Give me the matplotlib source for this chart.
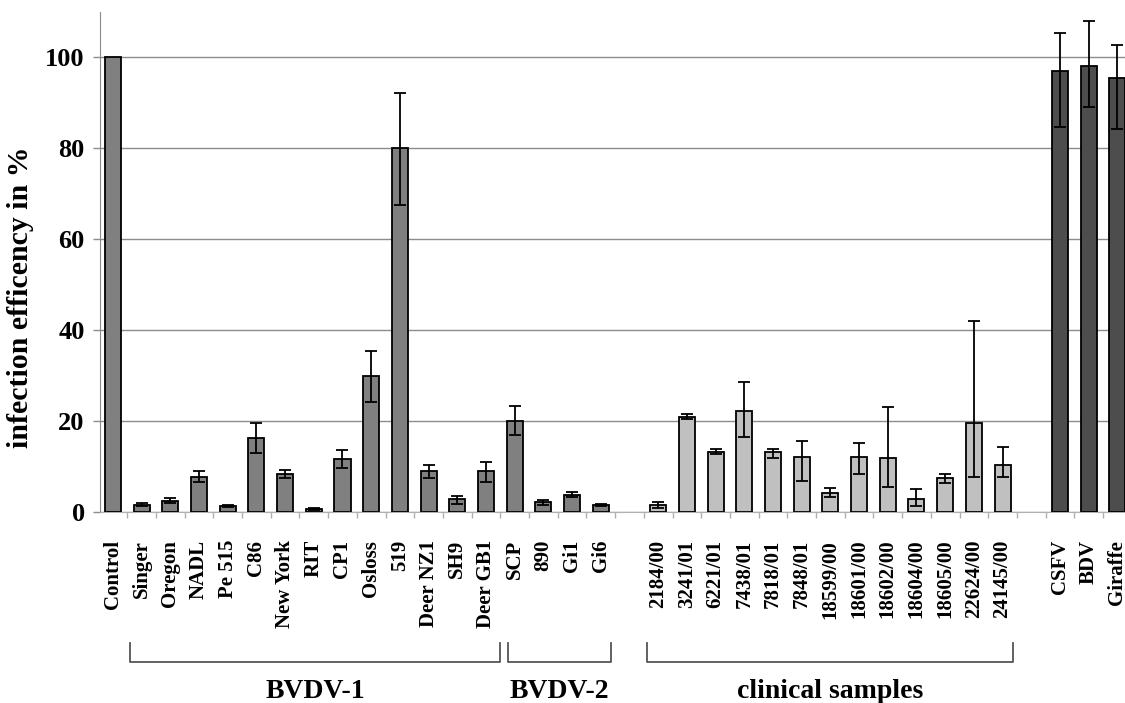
import numpy as np
import matplotlib as mpl
import matplotlib.pyplot as plt
from matplotlib.transforms import blended_transform_factory

mpl.use("Agg")

# bar categories, in order, with slot positions (gaps are empty slots)
bvdv_names = ["Control", "Singer", "Oregon", "NADL", "Pe 515", "C86", "New York",
              "RIT", "CP1", "Osloss", "519", "Deer NZ1", "SH9", "Deer GB1",
              "SCP", "890", "Gi1", "Gi6"]
bvdv_vals = [100, 1.6, 2.5, 7.8, 1.3, 16.3, 8.4, 0.7, 11.7, 30.0, 80.0, 9.0,
             2.8, 9.0, 20.0, 2.1, 3.7, 1.6]
bvdv_lo = [0, 0.3, 0.6, 1.3, 0.2, 3.4, 0.9, 0.2, 2.0, 5.8, 12.5, 1.6, 1.1,
           2.5, 3.0, 0.6, 0.5, 0.3]
bvdv_hi = [0, 0.3, 0.6, 1.2, 0.2, 3.3, 0.8, 0.2, 2.0, 5.5, 12.2, 1.4, 0.8,
           2.0, 3.3, 0.5, 0.7, 0.2]

clin_names = ["2184/00", "3241/01", "6221/01", "7438/01", "7818/01", "7848/01",
              "18599/00", "18601/00", "18602/00", "18604/00", "18605/00",
              "22624/00", "24145/00"]
clin_vals = [1.6, 21.0, 13.3, 22.2, 13.1, 12.2, 4.2, 12.1, 11.8, 2.8, 7.4, 19.5, 10.4]
clin_lo = [0.8, 0.6, 0.6, 5.8, 1.2, 5.3, 1.0, 3.8, 6.3, 1.5, 1.0, 11.8, 2.7]
clin_hi = [0.6, 0.6, 0.6, 6.4, 0.8, 3.5, 1.1, 3.0, 11.2, 2.2, 0.9, 22.6, 3.8]

other_names = ["CSFV", "BDV", "Giraffe"]
other_vals = [97.1, 98.1, 95.5]
other_lo = [12.3, 9.1, 11.3]
other_hi = [8.2, 9.9, 7.3]

groups = [("BVDV-1", 0.6, 13.48), ("BVDV-2", 13.75, 17.35),
          ("clinical samples", 18.6, 31.36)]

bvdv_x = np.arange(len(bvdv_names))
clin_x = np.arange(len(clin_names)) + 19
other_x = np.arange(len(other_names)) + 33

plt.rcParams["font.family"] = ["Liberation Serif", "DejaVu Serif"]
plt.rcParams["font.weight"] = "bold"
plt.rcParams["axes.labelweight"] = "bold"

fig = plt.figure(figsize=(11.25, 7.03), dpi=100)
ax = fig.add_axes([100 / 1125, 191 / 703, 1036 / 1125, 500 / 703])

ekw = dict(ecolor="black", elinewidth=1.3, capsize=4, capthick=1.3)
w = 0.56
ax.bar(bvdv_x, bvdv_vals, width=w, color="#808080", edgecolor="black",
       linewidth=1.3, zorder=3)
ax.errorbar(bvdv_x[1:], bvdv_vals[1:], yerr=[bvdv_lo[1:], bvdv_hi[1:]],
            fmt="none", zorder=4, **ekw)
ax.bar(clin_x, clin_vals, width=w, color="#c0c0c0", edgecolor="black",
       linewidth=1.3, zorder=3)
ax.errorbar(clin_x, clin_vals, yerr=[clin_lo, clin_hi], fmt="none", zorder=4, **ekw)
ax.bar(other_x, other_vals, width=w, color="#4d4d4d", edgecolor="black",
       linewidth=1.3, zorder=3)
ax.errorbar(other_x, other_vals, yerr=[other_lo, other_hi], fmt="none", zorder=4, **ekw)

ax.set_xlim(-0.45, 35.65)
ax.set_ylim(0, 110)
ax.set_yticks([0, 20, 40, 60, 80, 100])
ax.yaxis.grid(True, color="#8c8c8c", linewidth=1.0, zorder=0)
ax.set_axisbelow(True)
ax.tick_params(axis="y", labelsize=19, length=5, color="#8c8c8c", width=1, pad=6)

all_x = list(bvdv_x) + list(clin_x) + list(other_x)
all_names = bvdv_names + clin_names + other_names
ax.set_xticks(all_x)
ax.set_xticklabels(all_names, rotation=90, fontsize=15, va="top")
ax.tick_params(axis="x", length=0, pad=20)
ax.set_xticks(np.arange(0.5, 35.5, 1), minor=True)
ax.tick_params(axis="x", which="minor", length=4, color="#b0b0b0", width=1)

for side in ["top", "right"]:
    ax.spines[side].set_visible(False)
ax.spines["left"].set_color("#8c8c8c")
ax.spines["bottom"].set_color("#b0b0b0")

ax.set_ylabel("infection efficency in %", fontsize=21.5, fontweight="bold")
ax.yaxis.set_label_coords(-0.064, 0.43)

# group brackets under the labels
tr = blended_transform_factory(ax.transData, ax.transAxes)
for name, x0, x1 in groups:
    ax.plot([x0, x0, x1, x1], [-0.262, -0.30, -0.30, -0.262], color="#555555",
            linewidth=1.3, transform=tr, clip_on=False)
    ax.text((x0 + x1) / 2, -0.36, name, transform=tr, ha="center", va="center",
            fontsize=20)

fig.savefig("out.png", dpi=100)
